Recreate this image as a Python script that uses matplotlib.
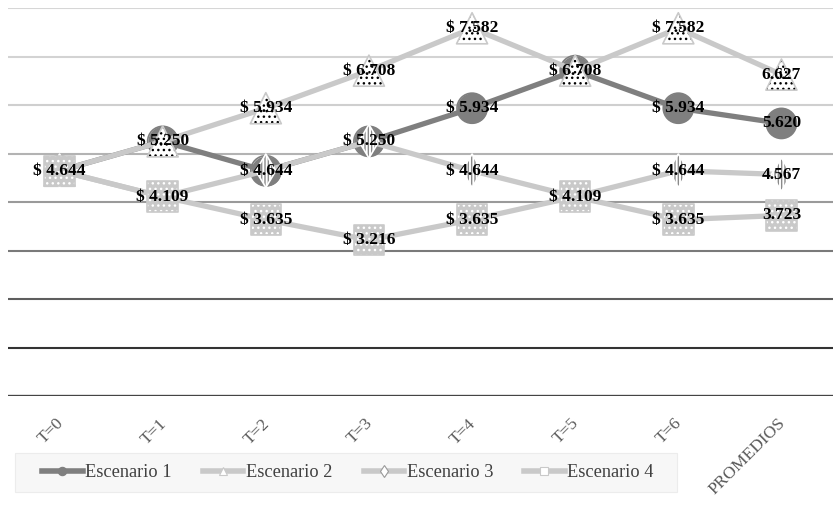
import matplotlib
matplotlib.use("Agg")
import matplotlib.pyplot as plt
import matplotlib.transforms as mtransforms
from matplotlib.lines import Line2D
from matplotlib.patches import Rectangle

plt.rcParams['font.family'] = ['Liberation Serif', 'DejaVu Serif']
plt.rcParams['hatch.linewidth'] = 1.0

periodos = ["T=0", "T=1", "T=2", "T=3", "T=4", "T=5", "T=6", "PROMEDIOS"]
escenario1 = [4.644, 5.250, 4.644, 5.250, 5.934, 6.708, 5.934, 5.620]
escenario2 = [4.644, 5.250, 5.934, 6.708, 7.582, 6.708, 7.582, 6.627]
escenario3 = [4.644, 4.109, 4.644, 5.250, 4.644, 4.109, 4.644, 4.567]
escenario4 = [4.644, 4.109, 3.635, 3.216, 3.635, 4.109, 3.635, 3.723]
nombres = ["Escenario 1", "Escenario 2", "Escenario 3", "Escenario 4"]
series = [escenario1, escenario2, escenario3, escenario4]

# line colour, marker, marker size, fill, hatch colour, hatch, outline
estilos = [
    dict(lc="#7f7f7f", m="o", s=470, fc="#7f7f7f", hc="#7f7f7f", h=None, ec="#7f7f7f"),
    dict(lc="#c9c9c9", m="^", s=500, fc="white", hc="black", h="...", ec="#c9c9c9"),
    dict(lc="#c9c9c9", m="d", s=290, fc="white", hc="#8a8a8a", h="|||||", ec="white"),
    dict(lc="#c9c9c9", m="s", s=480, fc="#c9c9c9", hc="white", h="...", ec="#c9c9c9"),
]

fig = plt.figure(figsize=(8.33, 5.16), dpi=100)
ax = fig.add_axes([8 / 833, 120 / 516, 825 / 833, 388 / 516])

x = list(range(len(periodos)))

# horizontal gridlines, lighter towards the top
grid_colors = ["#444444", "#333333", "#5e5e5e", "#7a7a7a", "#9a9a9a",
               "#b3b3b3", "#cfcfcf", "#d3d3d3", "#d6d6d6"]
for val, c in enumerate(grid_colors):
    ax.axhline(val, color=c, lw=2.4 if val == 0 else 1.5, zorder=1)

for k, (vals, st) in enumerate(zip(series, estilos)):
    z = 3 + k * 3
    ax.plot(x, vals, color=st["lc"], lw=3.8, solid_capstyle="round", zorder=z)
    ax.scatter(x, vals, s=st["s"], marker=st["m"], facecolor=st["fc"],
               edgecolor=st["hc"], linewidths=0, hatch=st["h"], zorder=z + 1)
    ax.scatter(x, vals, s=st["s"], marker=st["m"], facecolor="none",
               edgecolor=st["ec"], linewidths=1.2, zorder=z + 2)

# value labels, one per distinct point
vistos = set()
for vals in series:
    for i, v in enumerate(vals):
        if (i, v) in vistos:
            continue
        vistos.add((i, v))
        txt = f"{v:.3f}" if periodos[i] == "PROMEDIOS" else f"$ {v:.3f}"
        ax.text(i, v, txt, ha="center", va="center", fontsize=12.5,
                fontweight="bold", color="black", zorder=30)

ax.set_xlim(-0.5, 7.5)
ax.set_ylim(0, 8)
ax.set_yticks([])
ax.set_xticks(x)
ax.set_xticklabels(periodos, rotation=45, ha="right", va="top",
                   fontsize=12.5, color="#595959")
ax.tick_params(axis="x", length=0, pad=14)
shift = mtransforms.ScaledTranslation(7 / 100, 0, fig.dpi_scale_trans)
for lbl in ax.get_xticklabels():
    lbl.set_transform(lbl.get_transform() + shift)
for sp in ax.spines.values():
    sp.set_visible(False)

# legend background band
fig.patches.append(Rectangle((15 / 833, 24 / 516), 662 / 833, 39 / 516,
                             transform=fig.transFigure, facecolor="#f7f7f7",
                             edgecolor="#ececec", lw=0.8, zorder=0))

handles = []
for st in estilos:
    handles.append(Line2D([0], [0], color=st["lc"], lw=4, marker=st["m"],
                          markersize=6, markerfacecolor=st["fc"] if st["h"] is None else "white",
                          markeredgecolor=st["ec"] if st["m"] != "d" else "#9a9a9a",
                          markeredgewidth=0.8))
leg = fig.legend(handles, nombres, loc="center", ncol=4,
                 bbox_to_anchor=(348 / 833, 43.5 / 516),
                 fontsize=13.2, frameon=False, handlelength=2.2,
                 handletextpad=0.15, columnspacing=1.7, borderpad=0,
                 borderaxespad=0, labelcolor="#404040")

fig.savefig("out.png", dpi=100)
